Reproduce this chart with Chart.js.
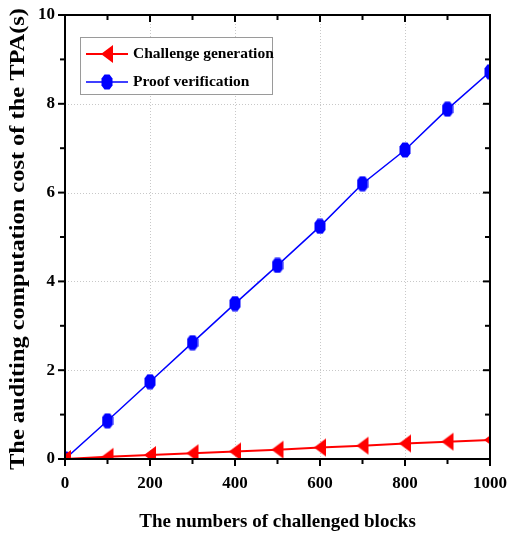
<!DOCTYPE html>
<html>
<head>
<meta charset="utf-8">
<script src="https://cdn.jsdelivr.net/npm/chart.js@4"></script>
<style>
html,body{margin:0;padding:0;background:#fff;}
#wrap{width:507px;height:541px;}
</style>
</head>
<body>
<div id="wrap"><canvas id="c" width="507" height="541"></canvas></div>
<script>
const blocks = [0,100,200,300,400,500,600,700,800,900,1000];
const challengeGen = [0,0.05,0.09,0.13,0.17,0.21,0.26,0.30,0.35,0.39,0.43];
const proofVerif = [0,0.86,1.74,2.62,3.5,4.36,5.24,6.2,6.96,7.88,8.72];
const seriesNames = ['Challenge generation','Proof verification'];
const xTitle = 'The numbers of challenged blocks';
const yTitle = 'The auditing computation cost of the TPA(s)';

function triMarker(color){
  const c=document.createElement('canvas');c.width=14;c.height=20;
  const g=c.getContext('2d');g.fillStyle=color;
  g.beginPath();g.moveTo(1,10);g.lineTo(13,1);g.lineTo(13,19);g.closePath();g.fill();
  return c;
}
function hexMarker(color){
  const c=document.createElement('canvas');c.width=12;c.height=16;
  const g=c.getContext('2d');g.fillStyle=color;
  g.beginPath();
  g.moveTo(3.5,0.5);g.lineTo(8.5,0.5);g.lineTo(11.5,4.5);g.lineTo(11.5,11.5);
  g.lineTo(8.5,15.5);g.lineTo(3.5,15.5);g.lineTo(0.5,11.5);g.lineTo(0.5,4.5);g.closePath();g.fill();
  return c;
}
const redM=triMarker('#ff0000'), blueM=hexMarker('#0000ff');

const FONT='"Liberation Serif","Times New Roman",serif';

const framePlugin={
  id:'frame',
  beforeDatasetsDraw(chart){
    const {ctx,chartArea:a,scales:{x,y}}=chart;
    ctx.save();
    ctx.strokeStyle='#c8c8c8';ctx.lineWidth=1;ctx.setLineDash([1,2]);
    [200,400,600,800].forEach(v=>{const px=Math.round(x.getPixelForValue(v))+0.5;ctx.beginPath();ctx.moveTo(px,a.top);ctx.lineTo(px,a.bottom);ctx.stroke();});
    [2,4,6,8].forEach(v=>{const py=Math.round(y.getPixelForValue(v))+0.5;ctx.beginPath();ctx.moveTo(a.left,py);ctx.lineTo(a.right,py);ctx.stroke();});
    ctx.restore();
  },
  afterDatasetsDraw(chart){
    const {ctx,chartArea:a,scales:{x,y}}=chart;
    ctx.save();
    ctx.strokeStyle='#000';ctx.lineWidth=2;ctx.setLineDash([]);
    ctx.strokeRect(a.left,a.top,a.right-a.left,a.bottom-a.top);
    for(let v=0;v<=1000;v+=100){
      const px=x.getPixelForValue(v);const maj=v%200===0;const L=maj?7:5;
      ctx.beginPath();ctx.moveTo(px,a.bottom);ctx.lineTo(px,a.bottom+L);ctx.stroke();
      ctx.beginPath();ctx.moveTo(px,a.top);ctx.lineTo(px,a.top+L);ctx.stroke();
    }
    for(let v=0;v<=10;v+=1){
      const py=y.getPixelForValue(v);const maj=v%2===0;const L=maj?7:5;
      ctx.beginPath();ctx.moveTo(a.left,py);ctx.lineTo(a.left-L,py);ctx.stroke();
      ctx.beginPath();ctx.moveTo(a.right,py);ctx.lineTo(a.right-L,py);ctx.stroke();
    }
    // legend
    const lx=80,ly=37,lw=192,lh=57;
    ctx.fillStyle='#fff';ctx.fillRect(lx,ly,lw,lh);
    ctx.strokeStyle='#9a9a9a';ctx.lineWidth=1;ctx.strokeRect(lx+0.5,ly+0.5,lw,lh);
    const rows=[{y:54,c:'#ff0000',m:redM,lw:2},{y:82,c:'#0000ff',m:blueM,lw:1.5}];
    rows.forEach((r,i)=>{
      ctx.strokeStyle=r.c;ctx.lineWidth=r.lw;
      ctx.beginPath();ctx.moveTo(86,r.y);ctx.lineTo(128,r.y);ctx.stroke();
      ctx.drawImage(r.m,107-r.m.width/2,r.y-r.m.height/2);
      ctx.fillStyle='#000';ctx.font='bold 15.5px '+FONT;ctx.textBaseline='middle';ctx.textAlign='left';
      ctx.fillText(seriesNames[i],133,r.y);
    });
    // y axis title (stretched along its length like the reference)
    ctx.translate(19,(a.top+a.bottom)/2+2);
    ctx.rotate(-Math.PI/2);
    ctx.scale(1.22,1);
    ctx.fillStyle='#000';ctx.font='bold 20px '+FONT;ctx.textAlign='center';ctx.textBaseline='middle';
    ctx.fillText(yTitle,0,0);
    ctx.restore();
  }
};

new Chart(document.getElementById('c'),{
  type:'line',
  data:{
    labels:blocks,
    datasets:[
      {label:seriesNames[0],data:blocks.map((b,i)=>({x:b,y:challengeGen[i]})),borderColor:'#ff0000',backgroundColor:'#ff0000',borderWidth:2,pointStyle:redM,pointRadius:8,tension:0},
      {label:seriesNames[1],data:blocks.map((b,i)=>({x:b,y:proofVerif[i]})),borderColor:'#0000ff',backgroundColor:'#0000ff',borderWidth:1.5,pointStyle:blueM,pointRadius:8,tension:0}
    ]
  },
  options:{
    responsive:false,animation:false,
    layout:{padding:{left:0,right:17,top:15,bottom:0}},
    plugins:{legend:{display:false},tooltip:{enabled:false}},
    scales:{
      x:{type:'linear',min:0,max:1000,
        ticks:{stepSize:200,padding:14,color:'#000',font:{family:FONT,size:17,weight:'bold'},maxRotation:0,callback:v=>String(v)},
        grid:{display:false,drawTicks:false},border:{display:false},
        title:{display:true,text:xTitle,color:'#000',font:{family:FONT,size:19,weight:'bold'},padding:{top:16,bottom:8}},
        afterFit(s){s.height=82;s.paddingLeft=0;s.paddingRight=0;}
      },
      y:{min:0,max:10,
        ticks:{stepSize:2,padding:10,color:'#000',font:{family:FONT,size:17,weight:'bold'}},
        grid:{display:false,drawTicks:false},border:{display:false},
        title:{display:false},
        afterFit(s){s.width=65;s.paddingTop=0;s.paddingBottom=0;}
      }
    }
  },
  plugins:[framePlugin]
});
</script>
</body>
</html>
